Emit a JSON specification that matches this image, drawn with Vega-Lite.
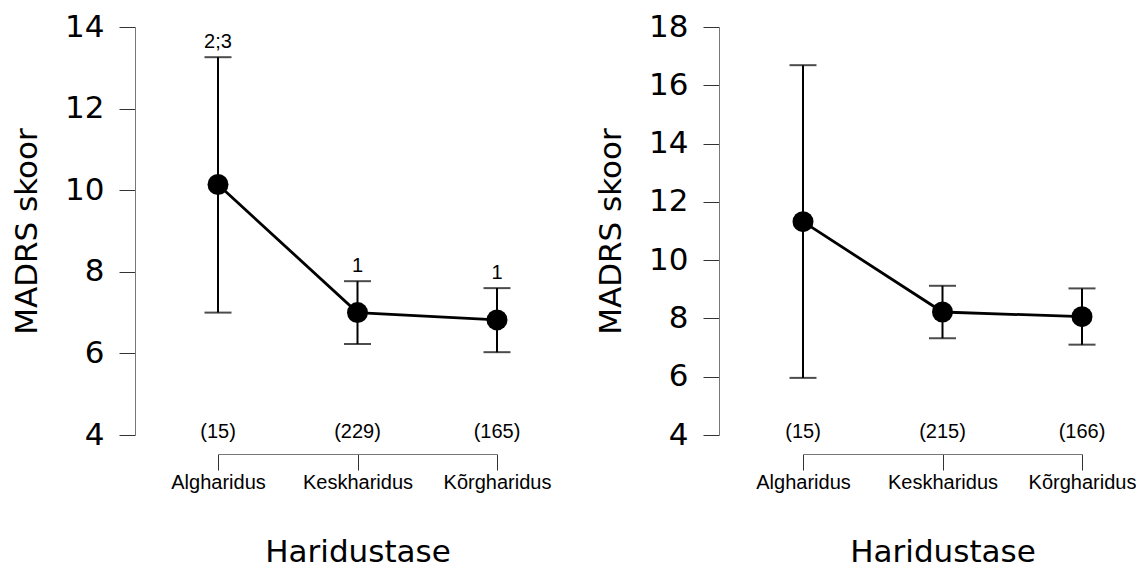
{
  "$schema": "https://vega.github.io/schema/vega-lite/v6.json",
  "background": "white",
  "padding": {"left": 11, "top": 11, "right": 0, "bottom": 0},
  "spacing": 44,
  "config": {
    "view": {"stroke": null},
    "axis": {"grid": false, "domainColor": "#777", "tickColor": "#333", "domainWidth": 1, "tickWidth": 1, "labelColor": "black", "titleColor": "black", "titleFontWeight": "normal"}
  },
  "datasets": {
    "left": [
      {"grp": "Algharidus", "mean": 10.14, "lo": 7.0, "hi": 13.26, "n": "(15)", "sig": "2;3"},
      {"grp": "Keskharidus", "mean": 7.0, "lo": 6.23, "hi": 7.77, "n": "(229)", "sig": "1"},
      {"grp": "Kõrgharidus", "mean": 6.82, "lo": 6.03, "hi": 7.6, "n": "(165)", "sig": "1"}
    ],
    "right": [
      {"grp": "Algharidus", "mean": 11.32, "lo": 5.96, "hi": 16.69, "n": "(15)", "sig": ""},
      {"grp": "Keskharidus", "mean": 8.22, "lo": 7.32, "hi": 9.12, "n": "(215)", "sig": ""},
      {"grp": "Kõrgharidus", "mean": 8.06, "lo": 7.1, "hi": 9.03, "n": "(166)", "sig": ""}
    ]
  },
  "hconcat": [
    {
      "width": 279,
      "height": 408,
      "data": {"name": "left"},
      "encoding": {
        "x": {"field": "grp", "type": "nominal", "sort": null,
          "scale": {"type": "point", "padding": 0},
          "axis": {"title": "Haridustase", "labelAngle": 0, "offset": 19, "tickSize": 16, "labelPadding": 2, "labelFont": "Liberation Sans", "labelFontSize": 20, "titleFont": "DejaVu Sans", "titleFontSize": 31, "titlePadding": 45}}
      },
      "layer": [
        {"mark": {"type": "rule", "strokeWidth": 2, "color": "black"},
          "encoding": {"y": {"field": "lo", "type": "quantitative"}, "y2": {"field": "hi"}}},
        {"mark": {"type": "tick", "orient": "horizontal", "size": 27, "thickness": 2, "color": "black"},
          "encoding": {"y": {"field": "lo", "type": "quantitative"}}},
        {"mark": {"type": "tick", "orient": "horizontal", "size": 27, "thickness": 2, "color": "black"},
          "encoding": {"y": {"field": "hi", "type": "quantitative"}}},
        {"mark": {"type": "line", "strokeWidth": 2.8, "color": "black"},
          "encoding": {"y": {"field": "mean", "type": "quantitative",
            "scale": {"domain": [4, 14], "zero": false, "nice": false},
            "axis": {"title": "MADRS skoor", "values": [4, 6, 8, 10, 12, 14], "offset": 83, "tickSize": 16, "labelPadding": 15, "labelFont": "DejaVu Sans", "labelFontSize": 31, "titleFont": "DejaVu Sans", "titleFontSize": 31, "titlePadding": 21}}}},
        {"mark": {"type": "point", "filled": true, "size": 440, "color": "black", "opacity": 1},
          "encoding": {"y": {"field": "mean", "type": "quantitative"}}},
        {"mark": {"type": "text", "font": "Liberation Sans", "fontSize": 20, "baseline": "alphabetic", "dy": -9, "color": "black"},
          "encoding": {"y": {"field": "hi", "type": "quantitative"}, "text": {"field": "sig"}}},
        {"mark": {"type": "text", "font": "Liberation Sans", "fontSize": 20, "baseline": "middle", "dy": -3, "color": "black"},
          "encoding": {"y": {"datum": 4, "type": "quantitative"}, "text": {"field": "n"}}}
      ]
    },
    {
      "width": 279,
      "height": 408,
      "data": {"name": "right"},
      "encoding": {
        "x": {"field": "grp", "type": "nominal", "sort": null,
          "scale": {"type": "point", "padding": 0},
          "axis": {"title": "Haridustase", "labelAngle": 0, "offset": 19, "tickSize": 16, "labelPadding": 2, "labelFont": "Liberation Sans", "labelFontSize": 20, "titleFont": "DejaVu Sans", "titleFontSize": 31, "titlePadding": 45}}
      },
      "layer": [
        {"mark": {"type": "rule", "strokeWidth": 2, "color": "black"},
          "encoding": {"y": {"field": "lo", "type": "quantitative"}, "y2": {"field": "hi"}}},
        {"mark": {"type": "tick", "orient": "horizontal", "size": 27, "thickness": 2, "color": "black"},
          "encoding": {"y": {"field": "lo", "type": "quantitative"}}},
        {"mark": {"type": "tick", "orient": "horizontal", "size": 27, "thickness": 2, "color": "black"},
          "encoding": {"y": {"field": "hi", "type": "quantitative"}}},
        {"mark": {"type": "line", "strokeWidth": 2.8, "color": "black"},
          "encoding": {"y": {"field": "mean", "type": "quantitative",
            "scale": {"domain": [4, 18], "zero": false, "nice": false},
            "axis": {"title": "MADRS skoor", "values": [4, 6, 8, 10, 12, 14, 16, 18], "offset": 84, "tickSize": 16, "labelPadding": 15, "labelFont": "DejaVu Sans", "labelFontSize": 31, "titleFont": "DejaVu Sans", "titleFontSize": 31, "titlePadding": 21}}}},
        {"mark": {"type": "point", "filled": true, "size": 440, "color": "black", "opacity": 1},
          "encoding": {"y": {"field": "mean", "type": "quantitative"}}},
        {"mark": {"type": "text", "font": "Liberation Sans", "fontSize": 20, "baseline": "middle", "dy": -3, "color": "black"},
          "encoding": {"y": {"datum": 4, "type": "quantitative"}, "text": {"field": "n"}}}
      ]
    }
  ]
}
